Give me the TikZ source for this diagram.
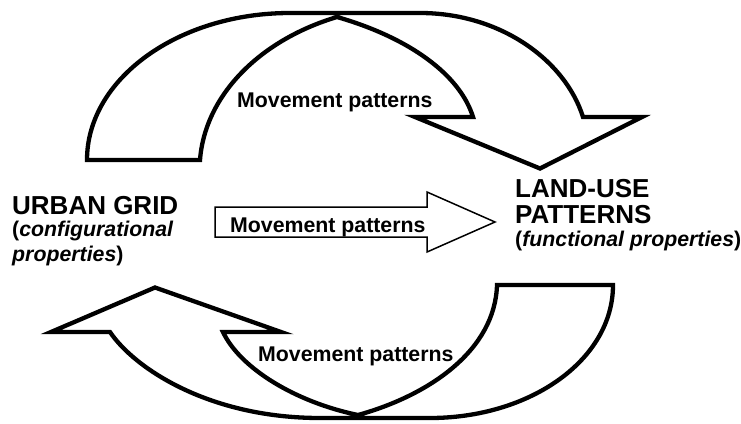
\documentclass[tikz,border=0pt]{standalone}
\usepackage{fontspec}
\setmainfont{Liberation Sans}
\begin{document}
\begin{tikzpicture}[x=1pt,y=-1pt,
  bigarrow/.style={draw=black,line width=4.3pt,fill=white,line join=miter},
  midarrow/.style={draw=black,line width=1.5pt,fill=white,line join=miter},
  bigtxt/.style={font=\fontsize{26}{30}\selectfont\bfseries,inner sep=0pt,anchor=base west},
  smalltxt/.style={font=\fontsize{21.3}{25}\selectfont\bfseries,inner sep=0pt,anchor=base west}]
\useasboundingbox (0,0) rectangle (741,423);
% top curved arrow
\draw[bigarrow] (87,160) .. controls (87,79) and (178,13) .. (290,13) -- (420,13)
  .. controls (500,13) and (565,60) .. (583,117) -- (642,117) -- (540,168.5) -- (415,117) -- (473,117)
  .. controls (460,75) and (410,38) .. (337,17) .. controls (260,40) and (205,95) .. (200,160) -- cycle;
% bottom curved arrow
\draw[bigarrow] (613,285) -- (497,285) .. controls (495,350) and (430,395) .. (358,415)
  .. controls (295,402) and (240,368) .. (223,332) -- (281,332) -- (155,287.5) -- (51,332) -- (110,332)
  .. controls (135,369) and (210,418) .. (320,418) -- (430,418)
  .. controls (530,418) and (613,360) .. (613,285) -- cycle;
% middle straight arrow
\draw[midarrow] (215,207) -- (427,207) -- (427,192) -- (495,222) -- (427,252) -- (427,237) -- (215,237) -- cycle;
% texts
\node[bigtxt] (ug) at (12,214) {URBAN GRID};
\node[smalltxt] (cf) at (12,236) {(\textit{configurational}};
\node[smalltxt] (pr) at (12,261) {\textit{properties})};
\node[bigtxt] (lu) at (515,197) {LAND-USE};
\node[bigtxt] (pa) at (515,223) {PATTERNS};
\node[smalltxt] (fp) at (515,246) {(\textit{functional properties})};
\node[smalltxt] (m1) at (237,107) {Movement patterns};
\node[smalltxt] (m2) at (230,232) {Movement patterns};
\node[smalltxt] (m3) at (258,361) {Movement patterns};
\end{tikzpicture}
\end{document}
